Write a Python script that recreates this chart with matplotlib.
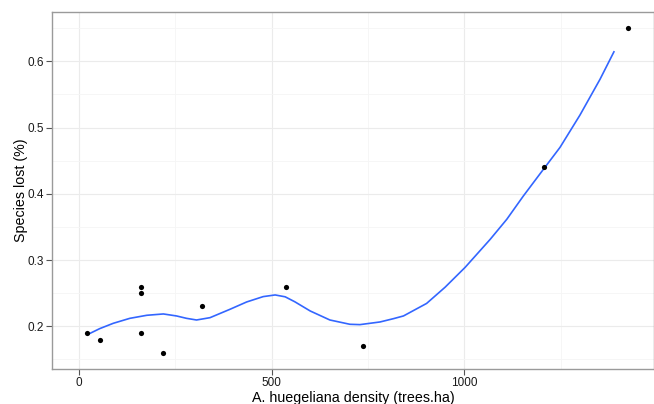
import matplotlib
matplotlib.use('Agg')
import matplotlib.pyplot as plt
from matplotlib.ticker import MultipleLocator

plt.rcParams['font.family'] = ['Liberation Sans', 'DejaVu Sans']

# observed points
density = [22, 54, 162, 162, 162, 217, 318, 537, 738, 1207, 1424]
lost = [0.19, 0.18, 0.26, 0.25, 0.19, 0.16, 0.23, 0.26, 0.17, 0.44, 0.65]

# smoothed curve
smooth_x = [24, 54, 89, 132, 176, 219, 253, 279, 305, 340, 392, 435, 478,
            509, 535, 560, 600, 651, 703, 729, 781, 816, 842, 902, 950, 1002,
            1067, 1110, 1153, 1196, 1248, 1300, 1352, 1389]
smooth_y = [0.188, 0.1965, 0.2045, 0.212, 0.2166, 0.2186, 0.2156, 0.212,
            0.2095, 0.213, 0.2257, 0.2367, 0.2448, 0.2473, 0.2445, 0.237,
            0.2231, 0.2095, 0.203, 0.2025, 0.2065, 0.2115, 0.2156, 0.2345,
            0.259, 0.289, 0.3313, 0.3615, 0.3967, 0.430, 0.470, 0.519, 0.573,
            0.6155]

fig = plt.figure(figsize=(6.54, 4.04), dpi=100)
ax = fig.add_axes([52 / 654, 35 / 404, 602 / 654, 357 / 404])

ax.plot(smooth_x, smooth_y, color='#3366FF', lw=1.2, zorder=3,
        solid_joinstyle='round', solid_capstyle='butt')
ax.scatter(density, lost, s=14, color='black', zorder=4, linewidths=0)

ax.set_xlim(-70, 1492)
ax.set_ylim(0.1355, 0.6745)
ax.xaxis.set_minor_locator(MultipleLocator(250))
ax.yaxis.set_minor_locator(MultipleLocator(0.05))
ax.set_xticks([0, 500, 1000])
ax.set_xticklabels(['0', '500', '1000'])
ax.set_yticks([0.2, 0.3, 0.4, 0.5, 0.6])
ax.set_yticklabels(['0.2', '0.3', '0.4', '0.5', '0.6'])

ax.grid(which='major', color='#ebebeb', lw=0.8)
ax.grid(which='minor', color='#f5f5f5', lw=0.6)
ax.set_axisbelow(True)
for s in ax.spines.values():
    s.set_color('#9a9a9a')
    s.set_linewidth(1.0)

ax.tick_params(which='major', length=4, width=0.8, color='#555555',
               labelsize=8.5, labelcolor='#1a1a1a', pad=1.5)
ax.tick_params(which='minor', length=0)

ax.set_xlabel('A. huegeliana density (trees.ha)', fontsize=10.3)
ax.set_ylabel('Species lost (%)', fontsize=10.3)
ax.xaxis.set_label_coords(0.5, -0.061)
ax.yaxis.set_label_coords(-24 / 602, 0.5)

fig.savefig('out.png', dpi=100)
